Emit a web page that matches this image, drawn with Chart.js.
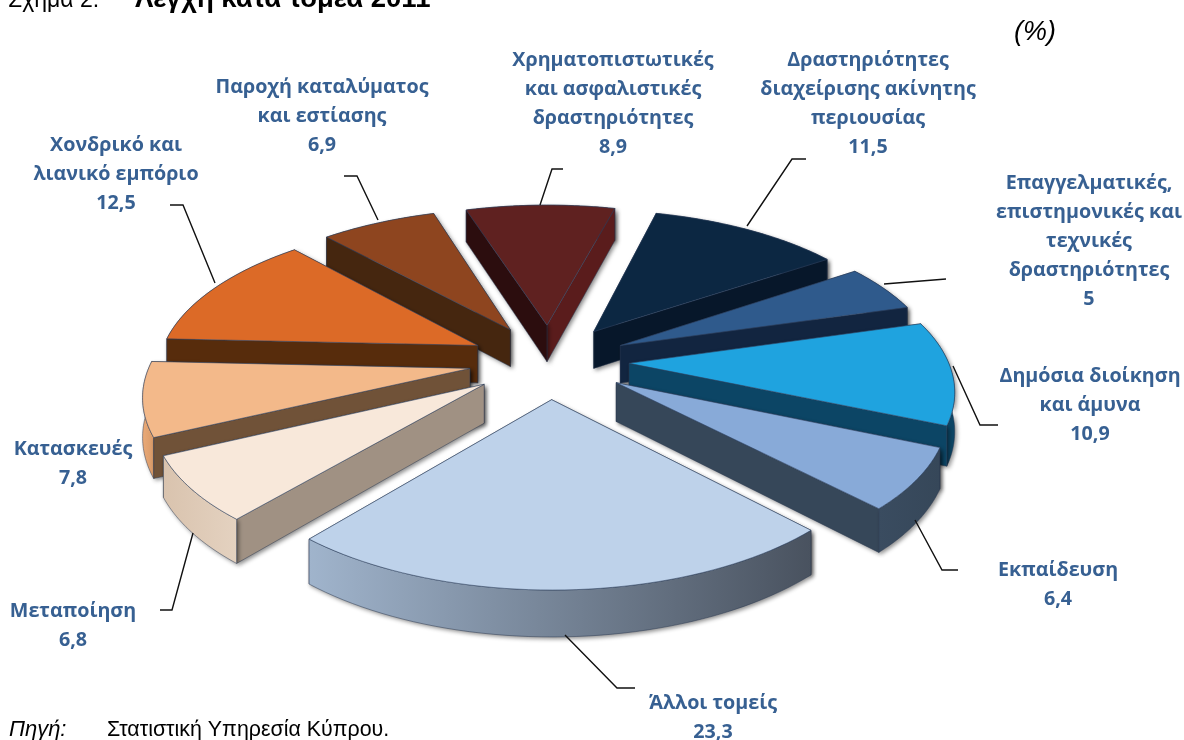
<!DOCTYPE html>
<html>
<head>
<meta charset="utf-8">
<style>
  html, body { margin: 0; padding: 0; background: #fff; }
  canvas { display: block; }
</style>
<script src="https://cdn.jsdelivr.net/npm/chart.js@4"></script>
</head>
<body>
<canvas id="pie3d" width="1184" height="740"></canvas>
<script>
const categories = [
  "Χρηματοπιστωτικές και ασφαλιστικές δραστηριότητες",
  "Δραστηριότητες διαχείρισης ακίνητης περιουσίας",
  "Επαγγελματικές, επιστημονικές και τεχνικές δραστηριότητες",
  "Δημόσια διοίκηση και άμυνα",
  "Εκπαίδευση",
  "Άλλοι τομείς",
  "Μεταποίηση",
  "Κατασκευές",
  "Χονδρικό και λιανικό εμπόριο",
  "Παροχή καταλύματος και εστίασης"
];
const values = [8.9, 11.5, 5, 10.9, 6.4, 23.3, 6.8, 7.8, 12.5, 6.9];

// label wrapping as in the picture
const labelLines = [
  ["Χρηματοπιστωτικές", "και ασφαλιστικές", "δραστηριότητες"],
  ["Δραστηριότητες", "διαχείρισης ακίνητης", "περιουσίας"],
  ["Επαγγελματικές,", "επιστημονικές και", "τεχνικές", "δραστηριότητες"],
  ["Δημόσια διοίκηση", "και άμυνα"],
  ["Εκπαίδευση"],
  ["Άλλοι τομείς"],
  ["Μεταποίηση"],
  ["Κατασκευές"],
  ["Χονδρικό και", "λιανικό εμπόριο"],
  ["Παροχή καταλύματος", "και εστίασης"]
];
const labelX = [613, 868, 1089, 1090, 1058, 713, 73, 73, 116, 322];
const labelY = [60, 60, 183, 376, 570, 703, 611, 449, 145, 87];
const leaders = [
  [[563, 169], [552, 169], [540, 205]],
  [[806, 159], [792, 159], [747, 226]],
  [[946, 279], [884, 284]],
  [[998, 425], [980, 425], [953, 366]],
  [[958, 570], [942, 570], [915, 520]],
  [[635, 688], [617, 688], [565, 635]],
  [[160, 610], [172, 610], [193, 533]],
  [],
  [[170, 205], [183, 205], [215, 283]],
  [[344, 176], [357, 176], [378, 220]]
];

const topColors = ["#5f2120", "#0c2742", "#2f5a8c", "#1fa3df", "#88aad8", "#bed2ea", "#f8e8da", "#f3b98a", "#dc6a27", "#8e451f"];
const cutStart = ["#2c0d0e", "#07172a", "#122540", "#0c4565", "#364759", "#4a5462", "#a09183", "#705238", "#572c0c", "#45260f"];
const cutEnd = ["#5a1c1c", "#07172a", "#122540", "#0c4565", "#364759", "#4a5462", "#a09183", "#705238", "#572c0c", "#45260f"];
const rimLight = ["#4a1511", "#07172a", "#122540", "#0c4565", "#3a4c60", "#a0b4cc", "#d9c3ae", "#eaaa78", "#572c0c", "#3c1f0a"];
const rimDark = ["#4a1511", "#07172a", "#122540", "#0c4565", "#364759", "#49525f", "#e4d2c0", "#d99a68", "#572c0c", "#3c1f0a"];

const sliceRadius = 319;
const explode = 80;
const thickness = 38;
const tilt = 0.465;
const viewDist = 2100;

function project(arc, a, r, z) {
  const mid = (arc.startAngle + arc.endAngle) / 2;
  const off = arc.options.offset;
  const X = off * Math.cos(mid) + r * Math.cos(a);
  const Y = -(off * Math.sin(mid) + r * Math.sin(a));
  const s = 1 / (1 + Y / viewDist);
  return { x: arc.x + X * s, y: arc.y - Y * tilt * s + z * s, depth: Y };
}

function rimPoints(arc, z, reverse) {
  const pts = [];
  const n = 48;
  for (let i = 0; i <= n; i++) {
    const k = reverse ? n - i : i;
    const a = arc.startAngle + (arc.endAngle - arc.startAngle) * k / n;
    pts.push(project(arc, a, arc.outerRadius, z));
  }
  return pts;
}

function fillPoly(ctx, pts, fill, stroke) {
  ctx.beginPath();
  pts.forEach((p, i) => i ? ctx.lineTo(p.x, p.y) : ctx.moveTo(p.x, p.y));
  ctx.closePath();
  ctx.fillStyle = fill;
  ctx.fill();
  ctx.shadowColor = "transparent";
  if (stroke) {
    ctx.strokeStyle = stroke;
    ctx.lineWidth = 0.8;
    ctx.stroke();
  }
}

const pie3d = {
  id: "pie3d",
  beforeDatasetsDraw(chart) {
    const ctx = chart.ctx;
    const meta = chart.getDatasetMeta(0);
    const order = meta.data.map((arc, i) => i).sort((p, q) => {
      const a = meta.data[p], b = meta.data[q];
      const ya = project(a, (a.startAngle + a.endAngle) / 2, a.outerRadius / 2, 0).depth;
      const yb = project(b, (b.startAngle + b.endAngle) / 2, b.outerRadius / 2, 0).depth;
      return yb - ya;
    });
    order.forEach(i => {
      const arc = meta.data[i];
      const R = arc.outerRadius;
      const walls = [];
      [arc.startAngle, arc.endAngle].forEach((a, side) => {
        const pts = [project(arc, a, 0, 0), project(arc, a, R, 0), project(arc, a, R, thickness), project(arc, a, 0, thickness)];
        walls.push({ pts, fill: side ? cutEnd[i] : cutStart[i], depth: project(arc, a, R / 2, 0).depth });
      });
      const rim = rimPoints(arc, 0, false).concat(rimPoints(arc, thickness, true));
      const xs = rim.map(p => p.x);
      const grad = ctx.createLinearGradient(Math.min(...xs), 0, Math.max(...xs), 0);
      grad.addColorStop(0, rimLight[i]);
      grad.addColorStop(1, rimDark[i]);
      walls.push({ pts: rim, fill: grad, depth: project(arc, (arc.startAngle + arc.endAngle) / 2, R, 0).depth });
      walls.sort((p, q) => q.depth - p.depth);
      ctx.save();
      walls.forEach(w => {
        ctx.shadowColor = "rgba(0,0,0,0.45)";
        ctx.shadowBlur = 4;
        ctx.shadowOffsetX = 2;
        ctx.shadowOffsetY = 2;
        fillPoly(ctx, w.pts, w.fill, "rgba(40,55,80,0.6)");
      });
      const top = [project(arc, arc.startAngle, 0, 0)].concat(rimPoints(arc, 0, false));
      fillPoly(ctx, top, arc.options.backgroundColor, "rgba(45,65,95,0.7)");
      ctx.restore();
    });
    return false;
  },
  afterDraw(chart) {
    const ctx = chart.ctx;
    ctx.save();
    ctx.textBaseline = "middle";
    ctx.textAlign = "center";
    ctx.font = "bold 19.7px 'Open Sans'";
    ctx.fillStyle = "#376092";
    labelLines.forEach((lines, i) => {
      const all = lines.concat(String(values[i]).replace(".", ","));
      all.forEach((t, k) => ctx.fillText(t, labelX[i], labelY[i] + k * 29));
    });
    ctx.strokeStyle = "#111";
    ctx.lineWidth = 1.4;
    leaders.forEach(pts => {
      if (!pts.length) return;
      ctx.beginPath();
      pts.forEach((p, k) => k ? ctx.lineTo(p[0], p[1]) : ctx.moveTo(p[0], p[1]));
      ctx.stroke();
    });
    // page text around the chart
    ctx.textAlign = "left";
    ctx.textBaseline = "alphabetic";
    ctx.fillStyle = "#000";
    ctx.font = "23px 'Liberation Sans'";
    ctx.fillText("Σχήμα 2:", 8, 7);
    ctx.font = "bold 27.5px 'Liberation Sans'";
    ctx.fillText("Λέγχη κατά τομέα 2011", 135, 7);
    ctx.font = "italic 27px 'Liberation Sans'";
    ctx.fillText("(%)", 1014, 40);
    ctx.font = "italic 22px 'Liberation Sans'";
    ctx.fillText("Πηγή:", 9, 736);
    ctx.font = "21.4px 'Liberation Sans'";
    ctx.fillText("Στατιστική Υπηρεσία Κύπρου.", 107, 736);
    ctx.restore();
  }
};

new Chart(document.getElementById("pie3d"), {
  type: "pie",
  data: {
    labels: categories,
    datasets: [{
      data: values,
      backgroundColor: topColors,
      offset: explode,
      borderWidth: 0
    }]
  },
  options: {
    responsive: false,
    animation: false,
    rotation: -17.5,
    radius: sliceRadius,
    layout: { padding: { right: 86, bottom: 18 } },
    plugins: { legend: { display: false }, tooltip: { enabled: false } }
  },
  plugins: [pie3d]
});
</script>
</body>
</html>
